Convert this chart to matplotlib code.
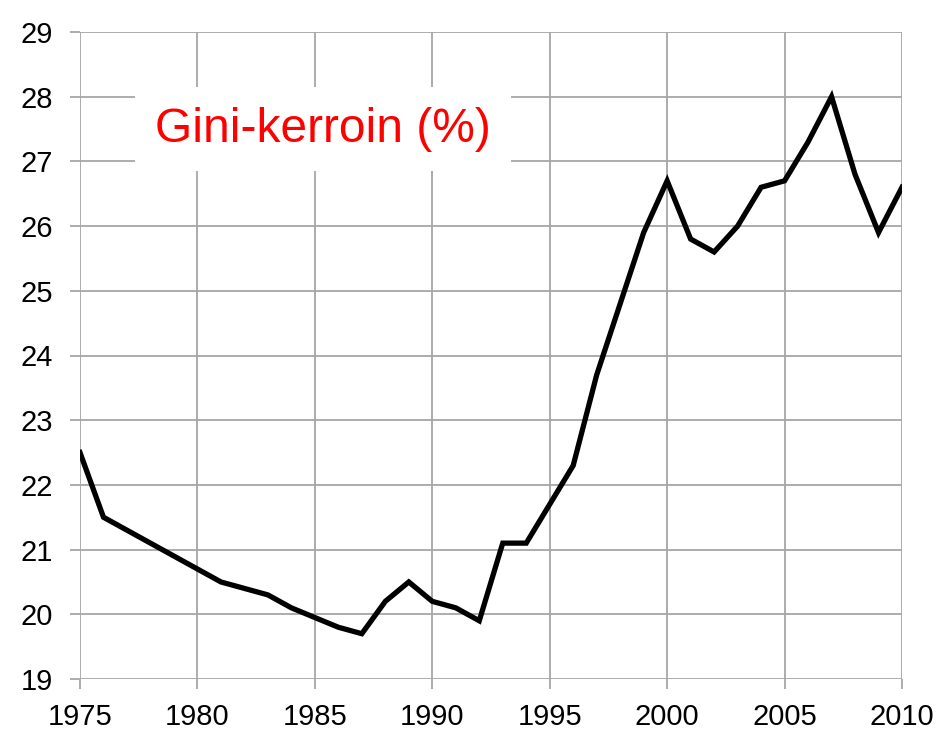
import matplotlib
matplotlib.use("Agg")
import matplotlib.pyplot as plt

years = list(range(1975, 2011))
gini = [22.5, 21.5, 21.3, 21.1, 20.9, 20.7, 20.5, 20.4, 20.3, 20.1,
        19.95, 19.8, 19.7, 20.2, 20.5, 20.2, 20.1, 19.9, 21.1, 21.1,
        21.7, 22.3, 23.7, 24.8, 25.9, 26.7, 25.8, 25.6, 26.0, 26.6,
        26.7, 27.3, 28.0, 26.8, 25.9, 26.6]
x_ticks = [1975, 1980, 1985, 1990, 1995, 2000, 2005, 2010]
y_ticks = list(range(19, 30))
title = "Gini-kerroin (%)"

grid_col = "#a6a6a6"
plt.rcParams["font.family"] = ["Liberation Sans", "DejaVu Sans"]

fig = plt.figure(figsize=(9.37, 7.35), dpi=100)
ax = fig.add_axes([80 / 937, 1 - 679 / 735, 822 / 937, 647 / 735])

ax.plot(years, gini, color="black", lw=3.8, solid_joinstyle="miter", zorder=3)

ax.set_xlim(1975, 2010)
ax.set_ylim(19, 29)
ax.set_xticks(x_ticks)
ax.set_yticks(y_ticks)
ax.grid(True, color=grid_col, lw=1.3, zorder=0)
for s in ax.spines.values():
    s.set_visible(False)
ax.tick_params(axis="both", direction="out", length=7.5, width=1.3, color=grid_col,
               labelsize=21)
ax.tick_params(axis="x", pad=10)
ax.tick_params(axis="y", pad=12)

ax.text(1985.35, 27.5, title, color="red", fontsize=34.5,
        ha="center", va="center", zorder=5,
        bbox=dict(facecolor="white", edgecolor="none", pad=14))

fig.savefig("out.png", dpi=100)
